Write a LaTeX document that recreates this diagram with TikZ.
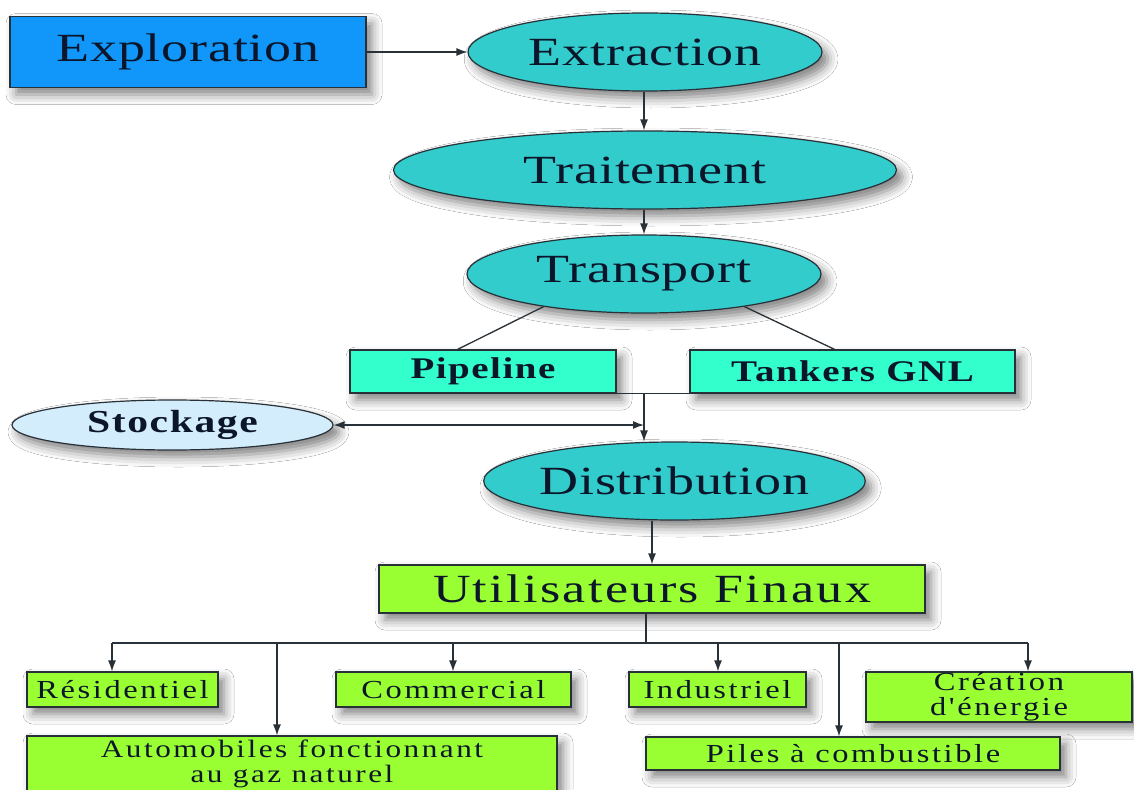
\documentclass[tikz,border=0pt]{standalone}
\usepackage{fontspec}
\setmainfont{Liberation Serif}
\newfontfamily\stagefont[FakeStretch=1.35,LetterSpace=2]{Liberation Serif}
\newfontfamily\usersfont[FakeStretch=1.3,LetterSpace=6]{Liberation Serif}
\newfontfamily\routefont[FakeStretch=1.3,LetterSpace=5]{Liberation Serif}
\newfontfamily\sectorfont[FakeStretch=1.25,LetterSpace=10]{Liberation Serif}
\usetikzlibrary{shapes.geometric,arrows.meta,shadows.blur}

\definecolor{explblue}{RGB}{17,150,250}
\definecolor{stagecyan}{RGB}{51,204,204}
\definecolor{routeaqua}{RGB}{51,255,204}
\definecolor{stockblue}{RGB}{212,237,252}
\definecolor{usergreen}{RGB}{153,255,51}
\definecolor{inkdark}{RGB}{12,22,42}
\definecolor{edgegray}{RGB}{40,48,56}

\begin{document}
\begin{tikzpicture}[
    x=1pt, y=-1pt,
    softshadow/.style={blur shadow={shadow xshift=6pt, shadow yshift=-7pt, shadow blur radius=10pt, shadow opacity=50}},
    panel/.style={draw=edgegray, line width=1.2pt, fill=#1, text=inkdark, inner sep=0pt, align=center, softshadow},
    stage/.style={ellipse, panel=stagecyan, minimum width=354pt, minimum height=78pt, font=\stagefont\fontsize{40}{44}\selectfont},
    route/.style={panel=routeaqua, minimum height=43pt, font=\routefont\bfseries\fontsize{30}{33}\selectfont},
    sector/.style={panel=usergreen, minimum height=35pt, font=\sectorfont\fontsize{26}{25}\selectfont},
    link/.style={draw=edgegray, line width=1.3pt},
    arrow/.style={link, -{Latex[length=11pt,width=8pt]}},
    dblarrow/.style={link, {Latex[length=11pt,width=8pt]}-{Latex[length=11pt,width=8pt]}}
]
    \fill[white] (0,0) rectangle (1134,789);
    \useasboundingbox (0,0) rectangle (1134,789);

    % main chain
    \node[panel=explblue, minimum width=356pt, minimum height=71pt, font=\stagefont\fontsize{40}{44}\selectfont] (expl) at (188,52) {Exploration};
    \node[stage] (extr) at (645,52) {Extraction};
    \node[stage, minimum width=503pt] (trait) at (645,170) {Traitement};
    \node[stage] (trans) at (644,274) {Transport};

    \node[route, minimum width=266pt] (pipe) at (483,371.5) {Pipeline};
    \node[route, minimum width=325pt] (tank) at (852.5,371.5) {Tankers GNL};
    \node[ellipse, panel=stockblue, minimum width=321pt, minimum height=50pt, font=\routefont\bfseries\fontsize{32}{35}\selectfont] (stock) at (172.5,425) {Stockage};

    \node[stage, minimum width=355pt] (distr) at (674.5,481) {Distribution};
    \node[panel=usergreen, minimum width=546pt, minimum height=48pt, font=\usersfont\fontsize{40}{44}\selectfont] (users) at (652,589) {Utilisateurs Finaux};

    % end users
    \node[sector, minimum width=191pt] (resid) at (122.5,689.5) {Résidentiel};
    \node[sector, minimum width=235pt] (comm) at (453.5,689.5) {Commercial};
    \node[sector, minimum width=177pt] (indus) at (717.5,689.5) {Industriel};
    \node[sector, minimum width=266pt, minimum height=50pt] (energy) at (999,697) {Création\\d'énergie};
    \node[sector, minimum width=530pt, minimum height=56pt, font=\sectorfont\fontsize{25}{25}\selectfont] (autos) at (292,764) {Automobiles fonctionnant\\au gaz naturel};
    \node[sector, minimum width=414pt, minimum height=33pt] (piles) at (853,753.5) {Piles à combustible};

    % connectors
    \draw[arrow] (expl.east) -- (extr.west);
    \draw[arrow] (extr.south -| 644,0) -- (trait.north -| 644,0);
    \draw[arrow] (trait.south -| 644,0) -- (trans.north -| 644,0);
    \draw[link] (trans.198) -- (pipe.139);
    \draw[link] (trans.342) -- (tank.129);

    \coordinate (j) at (644,393);
    \draw[link] (pipe.south east) -- (tank.south west);
    \draw[arrow] (j) -- (j |- distr.north);
    \draw[dblarrow] (stock.east) -- (stock.east -| j);
    \draw[arrow] (distr.south -| users.north) -- (users.north);

    \coordinate (bus) at (646,643);
    \draw[link] (bus |- users.south) -- (bus);
    \foreach \t/\x in {resid/112, autos/277, comm/453, indus/718, piles/839, energy/1028} {
        \coordinate (d\t) at (\x,643);
        \draw[arrow] (d\t) -- (d\t |- \t.north);
    }
    \draw[link] (dresid) -- (denergy);
\end{tikzpicture}
\end{document}
